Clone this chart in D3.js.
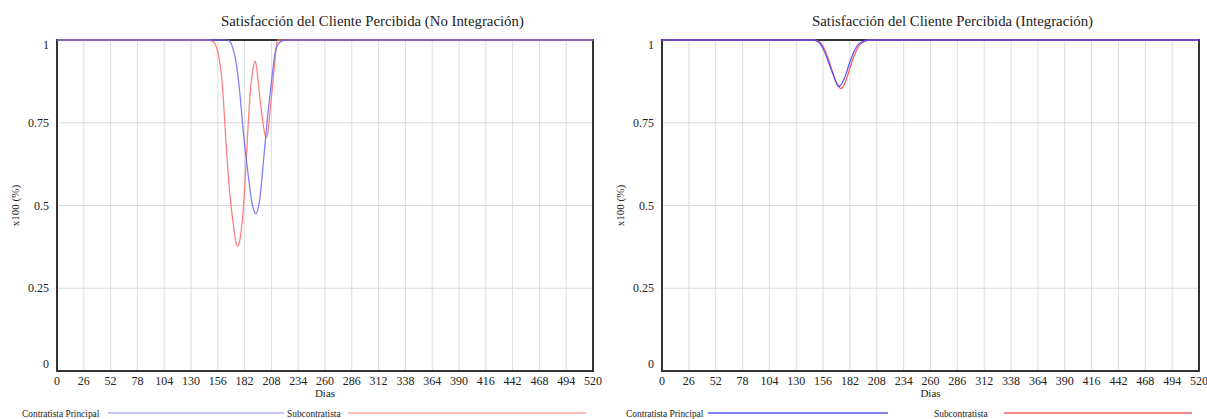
<!DOCTYPE html>
<html>
<head>
<meta charset="utf-8">
<script src="https://cdn.jsdelivr.net/npm/d3@7"></script>
<style>
  html, body { margin: 0; padding: 0; background: #fff; }
  svg { display: block; }
  svg text { font-family: "Liberation Serif", serif; }
</style>
</head>
<body>
<svg id="chart" width="1207" height="419"></svg>
<script>
// Ticks and labels
const xTicks = d3.range(0, 521, 26);
const yTicks = [0, 0.25, 0.5, 0.75, 1];
const yTickLabels = ["0", "0.25", "0.5", "0.75", "1"];
const seriesNames = ["Contratista Principal", "Subcontratista"];

// Panel 1: No Integración
const noIntDays_principal = [0, 164, 167, 169.5, 172.7, 176, 178, 180.5, 184, 187, 189, 191, 193, 195, 197, 199, 201.5, 204, 206.5, 209, 211.5, 214, 217, 222, 520];
const noIntVals_principal = [1, 1, 0.998, 0.985, 0.95, 0.88, 0.82, 0.73, 0.63, 0.555, 0.51, 0.485, 0.475, 0.49, 0.525, 0.59, 0.675, 0.76, 0.83, 0.9, 0.96, 0.985, 0.995, 1, 1];
const noIntDays_sub = [0, 146, 150, 153, 155, 157.5, 160, 161.5, 163, 164.5, 166, 167.5, 169, 171, 173, 175, 177, 179, 180.5, 182, 183.5, 185, 186.5, 188, 190, 192, 193.5, 195, 197, 199, 201, 203, 204.5, 206.5, 208.5, 210, 211.5, 213, 214, 520];
const noIntVals_sub = [1, 1, 0.997, 0.99, 0.975, 0.94, 0.88, 0.815, 0.74, 0.665, 0.6, 0.54, 0.495, 0.445, 0.4, 0.377, 0.39, 0.43, 0.48, 0.55, 0.63, 0.72, 0.8, 0.86, 0.91, 0.935, 0.92, 0.88, 0.82, 0.77, 0.725, 0.705, 0.72, 0.78, 0.84, 0.89, 0.94, 0.985, 1, 1];

// Panel 2: Integración
const intDays_principal = [0, 146, 149, 152, 155, 158, 161, 164, 167, 169.5, 171.5, 173.5, 176, 178.5, 181, 184, 187, 190, 194, 200, 520];
const intVals_principal = [1, 1, 0.998, 0.993, 0.98, 0.96, 0.935, 0.91, 0.885, 0.865, 0.86, 0.865, 0.88, 0.9, 0.925, 0.95, 0.972, 0.986, 0.995, 1, 1];
const intDays_sub = [0, 147, 150, 153, 156, 159, 162, 165, 168, 171, 173, 175, 177.5, 180, 183, 186, 189, 192, 196, 203, 520];
const intVals_sub = [1, 1, 0.998, 0.993, 0.98, 0.96, 0.935, 0.905, 0.878, 0.86, 0.853, 0.857, 0.872, 0.895, 0.925, 0.952, 0.973, 0.987, 0.996, 1, 1];

const zip = (xs, ys) => xs.map((d, i) => ({ day: d, v: ys[i] }));

const panels = [
  {
    title: "Satisfacción del Cliente Percibida  (No Integración)",
    titleX: 221,
    left: 57, right: 593, top: 40, bottom: 371,
    series: [
      { data: zip(noIntDays_sub, noIntVals_sub), color: "#ff6b6b", opacity: 0.85 },
      { data: zip(noIntDays_principal, noIntVals_principal), color: "#6a6aff", opacity: 0.85 }
    ],
    legendColors: ["#b0b0ff", "#ffa8a8"],
    legend: { t1: 22, l1: [108, 284], t2: 287, l2: [348, 586] }
  },
  {
    title: "Satisfacción del Cliente Percibida  (Integración)",
    titleX: 812,
    left: 662, right: 1199, top: 40, bottom: 371,
    series: [
      { data: zip(intDays_sub, intVals_sub), color: "#ff4a4a", opacity: 0.9 },
      { data: zip(intDays_principal, intVals_principal), color: "#4a4aff", opacity: 0.9 }
    ],
    legendColors: ["#5a5aff", "#ff5e5e"],
    legend: { t1: 626, l1: [708, 888], t2: 934, l2: [1004, 1192] }
  }
];

const svg = d3.select("#chart");

panels.forEach((p) => {
  const x = d3.scaleLinear().domain([0, 520]).range([p.left, p.right]);
  const y = d3.scaleLinear().domain([0, 1]).range([p.bottom, p.top]);
  const g = svg.append("g").attr("fill", "#222");
  const cx = (p.left + p.right) / 2;

  // title
  g.append("text").attr("x", p.titleX).attr("y", 26)
    .attr("font-size", 14.8).text(p.title);

  // grid
  g.append("g").selectAll("line").data(xTicks.slice(1, -1)).join("line")
    .attr("x1", d => x(d)).attr("x2", d => x(d))
    .attr("y1", p.top).attr("y2", p.bottom)
    .attr("stroke", "#dcdcdc").attr("stroke-width", 1);
  g.append("g").selectAll("line").data(yTicks.slice(1, -1)).join("line")
    .attr("y1", d => y(d)).attr("y2", d => y(d))
    .attr("x1", p.left).attr("x2", p.right)
    .attr("stroke", "#dcdcdc").attr("stroke-width", 1);

  // frame
  g.append("rect").attr("x", p.left).attr("y", p.top)
    .attr("width", p.right - p.left).attr("height", p.bottom - p.top)
    .attr("fill", "none").attr("stroke", "#333").attr("stroke-width", 2);

  // x tick labels
  g.append("g").selectAll("text").data(xTicks).join("text")
    .attr("x", d => x(d)).attr("y", 385).attr("text-anchor", "middle")
    .attr("font-size", 12).text(d => d);
  g.append("text").attr("x", cx).attr("y", 397).attr("text-anchor", "middle")
    .attr("font-size", 11).text("Dias");

  // y tick labels (ends pulled inside the frame)
  g.append("g").selectAll("text").data(yTicks).join("text")
    .attr("x", p.left - 8)
    .attr("y", d => y(d) + (d === 1 ? 9 : d === 0 ? -3 : 4))
    .attr("text-anchor", "end")
    .attr("font-size", 12).text((d, i) => yTickLabels[i]);
  g.append("text")
    .attr("transform", `translate(${p.left - 38},${(p.top + p.bottom) / 2}) rotate(-90)`)
    .attr("text-anchor", "middle").attr("font-size", 11).text("x100 (%)");

  // series
  const line = d3.line().x(d => x(d.day)).y(d => y(d.v)).curve(d3.curveMonotoneX);
  p.series.forEach(s => {
    g.append("path").datum(s.data).attr("d", line)
      .attr("fill", "none").attr("stroke", s.color)
      .attr("stroke-opacity", s.opacity).attr("stroke-width", 1.3);
  });

  // legend
  const ly = 413;
  g.append("text").attr("x", p.legend.t1).attr("y", ly + 3.5)
    .attr("font-size", 9.4).text(seriesNames[0]);
  g.append("line").attr("x1", p.legend.l1[0]).attr("x2", p.legend.l1[1])
    .attr("y1", ly).attr("y2", ly).attr("stroke", p.legendColors[0]).attr("stroke-width", 1.5);
  g.append("text").attr("x", p.legend.t2).attr("y", ly + 3.5)
    .attr("font-size", 9.4).text(seriesNames[1]);
  g.append("line").attr("x1", p.legend.l2[0]).attr("x2", p.legend.l2[1])
    .attr("y1", ly).attr("y2", ly).attr("stroke", p.legendColors[1]).attr("stroke-width", 1.5);
});
</script>
</body>
</html>
